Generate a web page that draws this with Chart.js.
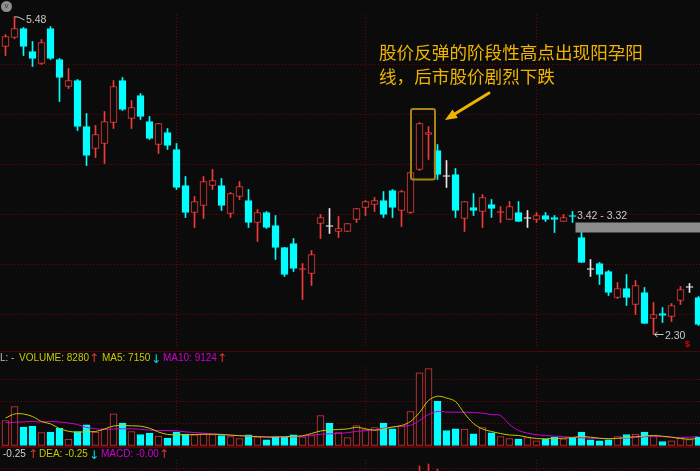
<!DOCTYPE html>
<html>
<head>
<meta charset="utf-8">
<script src="https://cdn.jsdelivr.net/npm/chart.js@4.4.1/dist/chart.umd.min.js"></script>
<style>
  html, body { margin: 0; padding: 0; background: #0b0b0b; }
  #wrap { position: relative; width: 700px; height: 471px; overflow: hidden; background: #0b0b0b;
          font-family: "Liberation Sans", Arial, sans-serif; }
  canvas { position: absolute; left: 0; }
  .sep { position: absolute; left: 0; width: 700px; }
  .lbl { position: absolute; font-size: 10px; line-height: 12px; white-space: nowrap; }
  .arr { position: absolute; font-family: "DejaVu Sans", sans-serif; font-size: 12px; line-height: 12px; }
  .note { position: absolute; font-family: "Noto Sans CJK SC", sans-serif; font-size: 17.6px;
          line-height: 24px; color: #f0b400; white-space: nowrap; }
  #icon { position: absolute; left: 1px; top: 1px; width: 11px; height: 11px; border-radius: 50%;
          background: #8e8e8e; color: #3a3a3a; font-size: 8px; line-height: 10px; text-align: center; }
</style>
</head>
<body>
<div id="wrap">
  <canvas id="priceChart" width="700" height="347" style="top:0"></canvas>
  <div class="sep" style="top:351px;height:1px;background:#4c0606"></div>
  <canvas id="volChart" width="700" height="95" style="top:352px"></canvas>
  <div class="sep" style="top:446px;height:2px;background:#580404"></div>
  <canvas id="macdChart" width="700" height="24" style="top:447px"></canvas>

  <div id="icon">v</div>
  <div class="note" style="left:379px;top:40px">股价反弹的阶段性高点出现阳孕阳</div>
  <div class="note" style="left:379px;top:64px">线，后市股价剧烈下跌</div>
  <div class="lbl" style="left:685px;top:338px;color:#e00000;font-weight:bold;font-size:9px">$</div>

  <div class="lbl" style="left:0;top:352px;color:#bdbdbd">L: -</div>
  <div class="lbl" id="volTxt" style="left:19px;top:352px;color:#c8c800"></div>
  <div class="arr" style="left:89px;top:352px;color:#f03030">↑</div>
  <div class="lbl" id="ma5Txt" style="left:102px;top:352px;color:#c8c800"></div>
  <div class="arr" style="left:151px;top:353px;color:#00e0e0">↓</div>
  <div class="lbl" id="ma10Txt" style="left:163px;top:352px;color:#d000d0"></div>
  <div class="arr" style="left:217px;top:352px;color:#f03030">↑</div>

  <div class="lbl" id="difTxt" style="left:3px;top:448px;color:#d0d0d0"></div>
  <div class="arr" style="left:28px;top:448px;color:#f03030">↑</div>
  <div class="lbl" id="deaTxt" style="left:39px;top:448px;color:#c8c800"></div>
  <div class="arr" style="left:89px;top:449px;color:#00e0e0">↓</div>
  <div class="lbl" id="macdTxt" style="left:101px;top:448px;color:#d000d0"></div>
  <div class="arr" style="left:159px;top:448px;color:#f03030">↑</div>
</div>

<script>
// daily candles
const opens = [5.18,5.27,5.36,5.13,5.01,5.36,5.05,4.78,4.84,4.38, 4.16,4.21,4.42,4.84,4.46,4.69,4.43,4.20,4.32,4.15,
  3.79,3.52,3.59,3.79,3.79,3.51,3.68,3.64,3.42,3.52, 3.39,3.17,3.21,2.95,2.91,3.41,3.38,3.33,3.33,3.45,
  3.57,3.60,3.64,3.74,3.54,3.52,3.95,4.30,4.14,3.88, 3.90,3.46,3.57,3.53,3.60,3.52,3.45,3.52,3.46,3.45,
  3.49,3.47,3.43,3.49,3.27,2.95,3.01,2.93,2.67,2.76, 2.60,2.72,2.46,2.51,2.48,2.64,2.77,2.67];
const highs = [5.30,5.48,5.37,5.23,5.25,5.38,5.06,4.96,4.85,4.51, 4.39,4.53,4.84,4.87,4.64,4.71,4.48,4.41,4.36,4.21,
  3.88,3.68,3.88,3.95,3.86,3.72,3.83,3.75,3.55,3.53, 3.49,3.17,3.26,3.01,3.14,3.50,3.56,3.48,3.41,3.56,
  3.64,3.67,3.73,3.75,3.74,3.93,4.42,4.38,4.20,4.04, 3.96,3.63,3.71,3.70,3.65,3.58,3.63,3.63,3.54,3.52,
  3.52,3.49,3.50,3.53,3.32,3.05,3.02,2.94,2.82,2.90, 2.84,2.77,2.62,2.57,2.61,2.78,2.81,2.68];
const lows = [5.09,5.26,5.09,4.98,5.00,5.05,4.63,4.76,4.34,3.99, 4.07,4.01,4.36,4.54,4.36,4.45,4.25,4.11,4.15,3.75,
  3.47,3.37,3.46,3.75,3.54,3.47,3.65,3.37,3.23,3.36, 3.05,2.88,2.93,2.65,2.79,3.26,3.31,3.27,3.33,3.42,
  3.49,3.53,3.47,3.47,3.38,3.51,3.94,4.05,3.85,3.77, 3.47,3.33,3.49,3.37,3.47,3.42,3.45,3.43,3.37,3.42,
  3.43,3.32,3.43,3.42,3.02,2.88,2.80,2.69,2.66,2.59, 2.50,2.41,2.30,2.42,2.43,2.60,2.72,2.39];
const closes = [5.28,5.36,5.18,5.06,5.22,5.06,4.87,4.84,4.38,4.09, 4.30,4.43,4.78,4.55,4.57,4.48,4.26,4.41,4.19,3.77,
  3.52,3.63,3.83,3.84,3.59,3.71,3.78,3.42,3.52,3.37, 3.17,2.90,2.96,2.96,3.10,3.47,3.38,3.36,3.41,3.56,
  3.63,3.64,3.50,3.57,3.73,3.92,4.41,4.32,3.90,3.88, 3.54,3.63,3.54,3.67,3.56,3.53,3.58,3.43,3.46,3.49,
  3.45,3.45,3.47,3.48,3.02,2.95,2.90,2.72,2.76,2.67, 2.79,2.41,2.50,2.49,2.59,2.75,2.77,2.40];

// volume and its moving averages
const volume = [25000,39000,18300,19300,13000,13300,17300,6300,14000,20700, 13300,16700,31700,22300,14000,11000,12300,9300,7300,13300,
  11300,10700,11700,11000,10000,9000,7000,10700,8700,5700, 9300,8300,10700,8700,10000,30000,22300,13000,8000,20000,
  16000,18000,22300,16700,19300,34000,72700,77000,44300,15000, 16700,16300,11700,18000,12700,9000,7000,6300,8000,4700,
  6300,8300,6700,7300,13300,5700,4700,5700,9000,11000, 11300,13300,9000,4000,4700,7300,6000,8280];
const ma5 = [27500,31500,31500,29000,24000,21700,17000,14200,13300,13800, 14000,16500,19500,20000,19700,19300,17300,13500,11000,10700,
  10700,11000,11200,11300,11000,10300,9800,9400,8800,8300, 8300,8700,9200,9700,12000,14500,15500,16000,16600,18200,
  16700,15200,16500,18500,20000,24000,33000,45000,49300,47500, 44000,32000,22000,16500,14000,12000,10500,10000,8300,7000,
  6700,7100,7300,8000,9000,8300,7300,6700,7200,8000, 8800,9500,10000,9300,8300,7000,6300,7150];
const ma10 = [22800,23200,23600,24000,23500,24000,23500,22500,21000,18000, 16800,16000,16500,16700,16700,16200,15300,15000,14900,14600,
  13600,13000,12300,11600,11200,10500,9900,9300,9100,9000, 8900,8800,8700,9200,10500,11200,11600,12100,12800,14100,
  14800,15800,17300,18400,19300,20200,25000,31000,34000,33500, 33300,33300,33000,32300,31000,30000,21000,15000,12300,10800,
  10000,9300,8800,8200,7700,7200,7000,7000,7000,7500, 8000,8700,9300,8800,8300,8000,8300,9124];

// MACD histogram: only the three tallest bars reach into the visible strip
const macdBars = opens.map(() => null);
macdBars[46] = 0.1475; macdBars[47] = 0.1575; macdBars[48] = 0.1325;
const difValue = -0.25, deaValue = -0.25, macdValue = -0.00;

const priceGrid = [5.0, 4.5, 4.0, 3.5, 3.0, 2.5];
const volGrid = [22000, 44000, 66000];
const macdGrid = [0.135];
const monthTicks = [19, 40, 59];
const gapIndex = 63;           // low of this day and high of the next leave a gap
const noteFrom = 46, noteTo = 47;

const BG = '#0b0b0b', RED = '#f03c3c', CYAN = '#00ffff', WHITE = '#e8e8e8';
const GRID = '#7a0000', LABEL = '#c8c8c8', GOLD = '#f0b400';
const X_MIN = -5.5 / 9, X_MAX = 694.5 / 9;

const idx = opens.map((_, i) => i);
const candleCol = idx.map(i => closes[i] > opens[i] ? RED : closes[i] < opens[i] ? CYAN : WHITE);
const bodyFill = idx.map(i => {
  if (closes[i] > opens[i] && closes[i] - opens[i] > 0.015) return BG;
  return candleCol[i];
});
const volUp = idx.map(i => closes[i] > opens[i] ||
  (closes[i] === opens[i] && (i === 0 || closes[i] >= closes[i - 1])));

function baseOptions(yMin, yMax, yTicks, padTop) {
  return {
    responsive: false,
    animation: false,
    events: [],
    layout: { padding: { top: padTop, left: 0, right: 0, bottom: 0 } },
    plugins: { legend: { display: false }, tooltip: { enabled: false } },
    scales: {
      x: {
        type: 'linear', min: X_MIN, max: X_MAX, offset: false,
        ticks: { display: false },
        grid: { color: GRID, drawTicks: false, offset: false },
        border: { display: false, dash: [1, 2] },
        afterBuildTicks: s => { s.ticks = monthTicks.map(v => ({ value: v })); }
      },
      y: {
        min: yMin, max: yMax,
        ticks: { display: false },
        grid: { color: GRID, drawTicks: false },
        border: { display: false, dash: [1, 2] },
        afterBuildTicks: s => { s.ticks = yTicks.map(v => ({ value: v })); }
      }
    }
  };
}

const priceMarks = {
  id: 'priceMarks',
  beforeDatasetsDraw(chart) {
    const { ctx, chartArea, scales: { x, y } } = chart;
    const gx = x.getPixelForValue(gapIndex) + 3;
    const y1 = y.getPixelForValue(lows[gapIndex]);
    const y2 = y.getPixelForValue(highs[gapIndex + 1]);
    ctx.save();
    ctx.fillStyle = '#8c8c8c';
    ctx.fillRect(gx, y1, chartArea.right - gx, y2 - y1);
    ctx.restore();
  },
  afterDatasetsDraw(chart) {
    const { ctx, scales: { x, y } } = chart;
    ctx.save();
    ctx.font = '10.5px "Liberation Sans", Arial, sans-serif';
    ctx.textBaseline = 'middle';
    ctx.fillStyle = LABEL;
    ctx.strokeStyle = LABEL;
    ctx.lineWidth = 1;

    // gap label
    const gx = x.getPixelForValue(gapIndex) + 3;
    const gy = y.getPixelForValue(lows[gapIndex]);
    ctx.fillText(lows[gapIndex].toFixed(2) + ' - ' + highs[gapIndex + 1].toFixed(2), gx + 1.5, gy - 6.5);

    // highest high
    const hi = Math.max(...highs), iHi = highs.indexOf(hi);
    let px = x.getPixelForValue(iHi), py = y.getPixelForValue(hi);
    ctx.beginPath();
    ctx.moveTo(px + 0.5, py + 0.5); ctx.lineTo(px + 3.5, py + 0.5); ctx.lineTo(px + 10, py + 3.5);
    ctx.stroke();
    ctx.fillText(hi.toFixed(2), px + 11.5, py + 3.5);

    // lowest low
    const lo = Math.min(...lows), iLo = lows.indexOf(lo);
    px = x.getPixelForValue(iLo); py = y.getPixelForValue(lo);
    ctx.beginPath();
    ctx.moveTo(px + 10, py); ctx.lineTo(px + 1, py);
    ctx.moveTo(px + 4, py - 2.5); ctx.lineTo(px + 1, py); ctx.lineTo(px + 4, py + 2.5);
    ctx.stroke();
    ctx.fillText(lo.toFixed(2), px + 11.5, py + 1.5);

    // box round the pattern and the pointer
    const bx1 = x.getPixelForValue(noteFrom) - 8.5, bx2 = x.getPixelForValue(noteTo) + 6.5;
    const by1 = y.getPixelForValue(highs[noteFrom]) - 13.5, by2 = y.getPixelForValue(lows[noteFrom]) + 9;
    ctx.strokeStyle = '#a88410';
    ctx.lineWidth = 2;
    ctx.beginPath();
    if (ctx.roundRect) ctx.roundRect(bx1, by1, bx2 - bx1, by2 - by1, 2); else ctx.rect(bx1, by1, bx2 - bx1, by2 - by1);
    ctx.stroke();

    const tx = bx2 + 10, ty = by1 + 11, sx = bx2 + 54, sy = by1 - 16;
    const ang = Math.atan2(ty - sy, tx - sx);
    ctx.strokeStyle = GOLD; ctx.fillStyle = GOLD;
    ctx.lineWidth = 3; ctx.lineCap = 'round';
    ctx.beginPath();
    ctx.moveTo(sx, sy);
    ctx.lineTo(tx - 8 * Math.cos(ang), ty - 8 * Math.sin(ang));
    ctx.stroke();
    ctx.beginPath();
    ctx.moveTo(tx, ty);
    ctx.lineTo(tx - 12 * Math.cos(ang) + 5 * Math.sin(ang), ty - 12 * Math.sin(ang) - 5 * Math.cos(ang));
    ctx.lineTo(tx - 12 * Math.cos(ang) - 5 * Math.sin(ang), ty - 12 * Math.sin(ang) + 5 * Math.cos(ang));
    ctx.closePath();
    ctx.fill();
    ctx.restore();
  }
};

// price panel: chart area 15..347 px, 0.01 per px
new Chart(document.getElementById('priceChart'), {
  type: 'bar',
  data: {
    datasets: [
      {
        label: 'body',
        data: idx.map(i => ({ x: i, y: [opens[i], closes[i]] })),
        backgroundColor: bodyFill,
        borderColor: candleCol,
        borderWidth: 1,
        borderSkipped: false,
        barThickness: 7,
        minBarLength: 1,
        grouped: false,
        order: 1
      },
      {
        label: 'wick',
        data: idx.map(i => ({ x: i, y: [lows[i], highs[i]] })),
        backgroundColor: candleCol,
        barThickness: 1,
        grouped: false,
        order: 2
      }
    ]
  },
  options: baseOptions(2.175, 5.495, priceGrid, 15),
  plugins: [priceMarks]
});

// volume panel: chart area 367..447 px, zero at 445.5, 1000 per px
new Chart(document.getElementById('volChart'), {
  type: 'bar',
  data: {
    datasets: [
      {
        type: 'line', label: 'MA5',
        data: idx.map(i => ({ x: i, y: ma5[i] })),
        borderColor: '#c8c800', borderWidth: 1, pointRadius: 0, tension: 0.3, order: 0
      },
      {
        type: 'line', label: 'MA10',
        data: idx.map(i => ({ x: i, y: ma10[i] })),
        borderColor: '#d000d0', borderWidth: 1, pointRadius: 0, tension: 0.3, order: 0
      },
      {
        label: 'VOLUME',
        data: idx.map(i => ({ x: i, y: volume[i] })),
        backgroundColor: idx.map(i => volUp[i] ? BG : CYAN),
        borderColor: idx.map(i => volUp[i] ? '#e03838' : CYAN),
        borderWidth: 1,
        borderSkipped: false,
        barThickness: 7,
        order: 1
      }
    ]
  },
  options: baseOptions(-1500, 78500, volGrid, 15)
});

// MACD panel: only its top strip is in view
new Chart(document.getElementById('macdChart'), {
  type: 'bar',
  data: {
    datasets: [{
      label: 'MACD',
      data: idx.map(i => ({ x: i, y: macdBars[i] })),
      backgroundColor: '#e03030',
      barThickness: 1
    }]
  },
  options: baseOptions(0.1225, 0.1775, macdGrid, 13)
});

const n = volume.length;
document.getElementById('volTxt').textContent = 'VOLUME: ' + volume[n - 1];
document.getElementById('ma5Txt').textContent = 'MA5: ' + ma5[n - 1];
document.getElementById('ma10Txt').textContent = 'MA10: ' + ma10[n - 1];
document.getElementById('difTxt').textContent = difValue.toFixed(2);
document.getElementById('deaTxt').textContent = 'DEA: ' + deaValue.toFixed(2);
document.getElementById('macdTxt').textContent = 'MACD: -' + Math.abs(macdValue).toFixed(2);
</script>
</body>
</html>
